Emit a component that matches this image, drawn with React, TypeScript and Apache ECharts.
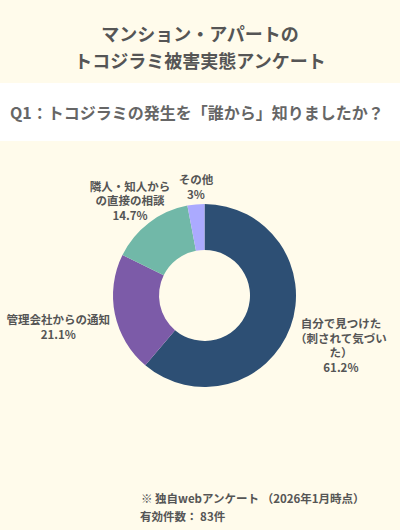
import React, { useEffect, useRef } from "react";
import * as echarts from "echarts";

const categories = [
  "自分で見つけた\n（刺されて気づい\nた）",
  "管理会社からの通知",
  "隣人・知人から\nの直接の相談",
  "その他",
];
const values = [61.2, 21.1, 14.7, 3];
const colors = ["#2d4f74", "#7c5ba8", "#71b8a8", "#abaaff"];
const titleLines = ["マンション・アパートの", "トコジラミ被害実態アンケート"];
const question = "Q1：トコジラミの発生を「誰から」知りましたか？";
const footnotes = ["※ 独自webアンケート （2026年1月時点）", "有効件数： 83件"];

const FONT = "'Noto Sans CJK JP', 'Noto Sans', sans-serif";
const labelOffsets = [
  [-8, 15],
  [8, 11],
  [31, -16],
  [23, -10],
];

export default function App() {
  const ref = useRef<HTMLDivElement>(null);
  useEffect(() => {
    document.body.style.margin = "0";
    const chart = echarts.init(ref.current!, null, { renderer: "svg" });
    chart.setOption({
      animation: false,
      backgroundColor: "#fffbeb",
      graphic: [
        { type: "rect", shape: { x: 0, y: 83, width: 400, height: 58 }, style: { fill: "#ffffff" }, silent: true },
        {
          type: "text",
          x: 200,
          y: 46,
          style: {
            text: titleLines.join("\n"),
            align: "center",
            verticalAlign: "middle",
            fontSize: 18,
            fontWeight: "bold",
            fontFamily: FONT,
            fill: "#555555",
            lineHeight: 27,
          },
        },
        {
          type: "text",
          x: 10,
          y: 112,
          style: {
            text: question,
            align: "left",
            verticalAlign: "middle",
            fontSize: 16,
            fontWeight: "bold",
            fontFamily: FONT,
            fill: "#666666",
          },
        },
        {
          type: "text",
          x: 141,
          y: 498,
          style: {
            text: footnotes[0],
            align: "left",
            verticalAlign: "middle",
            fontSize: 11.5,
            fontWeight: "bold",
            fontFamily: FONT,
            fill: "#555555",
          },
        },
        {
          type: "text",
          x: 140,
          y: 516,
          style: {
            text: footnotes[1],
            align: "left",
            verticalAlign: "middle",
            fontSize: 11.5,
            fontWeight: "bold",
            fontFamily: FONT,
            fill: "#555555",
          },
        },
      ],
      series: [
        {
          type: "pie",
          center: [204.5, 295.5],
          radius: [45.5, 91.5],
          startAngle: 90,
          clockwise: true,
          avoidLabelOverlap: false,
          data: categories.map((c, i) => ({ name: c, value: values[i], itemStyle: { color: colors[i] } })),
          label: {
            show: true,
            position: "outside",
            formatter: (p: any) => `{n|${p.name}}\n{n|${p.value}%}`,
            rich: {
              n: {
                align: "center",
                fontSize: 11.5,
                fontWeight: "bold",
                fontFamily: FONT,
                color: "#555555",
                lineHeight: 14.5,
              },
            },
          },
          labelLine: { show: false, length: 8, length2: 0 },
          labelLayout: (p: any) => ({ dx: labelOffsets[p.dataIndex][0], dy: labelOffsets[p.dataIndex][1] }),
          emphasis: { disabled: true },
        },
      ],
    });
    return () => chart.dispose();
  }, []);
  return <div ref={ref} style={{ width: 400, height: 530 }} />;
}
